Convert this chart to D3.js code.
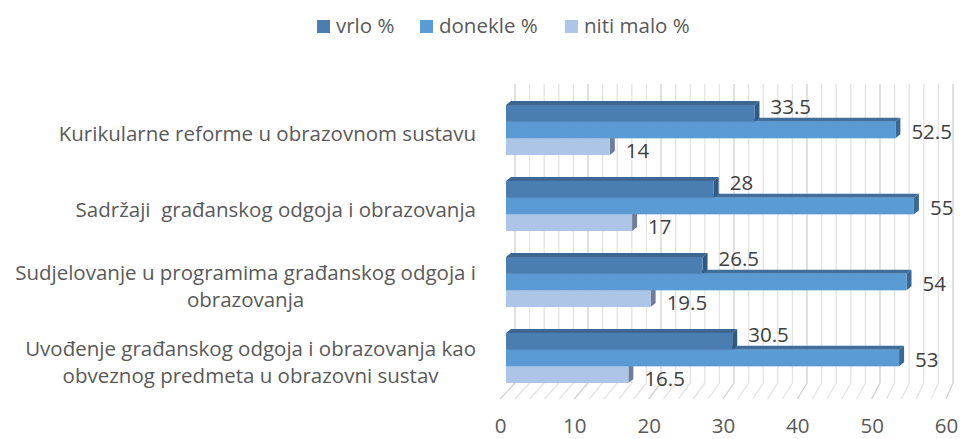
<!DOCTYPE html>
<html>
<head>
<meta charset="utf-8">
<script src="https://cdn.jsdelivr.net/npm/d3@7"></script>
<style>
  body { margin: 0; background: #fff; }
  text { font-family: "Open Sans", "Noto Sans", sans-serif; fill: #595959; }
</style>
</head>
<body>
<div id="chart"></div>
<script>
var svgWidth = 963;
var svgHeight = 439;

// Data.
var categories = [
    ["Kurikularne reforme u obrazovnom sustavu"],
    ["Sadržaji  građanskog odgoja i obrazovanja"],
    ["Sudjelovanje u programima građanskog odgoja i", "obrazovanja"],
    ["Uvođenje građanskog odgoja i obrazovanja kao", "obveznog predmeta u obrazovni sustav"]
];
var seriesNames = ["vrlo %", "donekle %", "niti malo %"];
var vrlo = [33.5, 28, 26.5, 30.5];
var donekle = [52.5, 55, 54, 53];
var nitiMalo = [14, 17, 19.5, 16.5];
var tickValues = [0, 10, 20, 30, 40, 50, 60];

var seriesValues = [vrlo, donekle, nitiMalo];
var frontColors = ["#4A7EB1", "#5B9BD5", "#ADC5E6"];
var topColors = ["#3B6791", "#3F6E9B", "#8097B5"];
var sideColors = ["#2F5A82", "#3A6894", "#6D7F98"];
var labelDy = [-6, 2, 4];
var fontSize = "20.5px";

var svg = d3.select("#chart")
    .append("svg")
    .attr("width", svgWidth)
    .attr("height", svgHeight);

// 3D depth of the chart walls and of the bars.
var wallTop = 84, backBottom = 383, frontBottom = 399;
var depthX = 5, depthY = -4;

var xFront = d3.scaleLinear().domain([0, 60]).range([500, 946]);
var xBack = d3.scaleLinear().domain([0, 60]).range([515, 953]);
var xBar = d3.scaleLinear().domain([0, 60]).range([506, 951]);

var catIndex = d3.range(categories.length);
var y0 = d3.scaleBand()
    .domain(catIndex)
    .range([92, 396])
    .paddingInner(0.34)
    .paddingOuter(0.17);
var y1 = d3.scaleBand()
    .domain(d3.range(seriesNames.length))
    .range([0, y0.bandwidth()]);

// Gridlines on back wall and floor, every 2 units.
var grid = svg.append("g");
var gridValues = d3.range(0, 61, 2);
grid.selectAll("line.back")
    .data(gridValues)
    .enter()
    .append("line")
    .attr("x1", d => xBack(d))
    .attr("x2", d => xBack(d))
    .attr("y1", wallTop)
    .attr("y2", backBottom)
    .attr("stroke", d => d % 10 === 0 ? "#d0d0d0" : "#e3e3e3")
    .attr("stroke-width", 1.3);
grid.selectAll("line.floor")
    .data(gridValues)
    .enter()
    .append("line")
    .attr("x1", d => xBack(d))
    .attr("x2", d => xFront(d))
    .attr("y1", backBottom)
    .attr("y2", frontBottom)
    .attr("stroke", d => d % 10 === 0 ? "#d0d0d0" : "#e3e3e3")
    .attr("stroke-width", 1.3);

// Bars, drawn bottom series first so upper bars cover their top faces.
var bars = svg.append("g");
catIndex.forEach(function(ci) {
    for (var si = seriesNames.length - 1; si >= 0; si--) {
        var v = seriesValues[si][ci];
        var x0 = xBar(0), x1 = xBar(v);
        var y = y0(ci) + y1(si);
        var h = y1.bandwidth();
        var g = bars.append("g");
        // top face
        g.append("path")
            .attr("d", `M${x0},${y} L${x0 + depthX},${y + depthY} L${x1 + depthX},${y + depthY} L${x1},${y} Z`)
            .attr("fill", topColors[si]);
        // side face
        g.append("path")
            .attr("d", `M${x1},${y} L${x1 + depthX},${y + depthY} L${x1 + depthX},${y + h + depthY} L${x1},${y + h} Z`)
            .attr("fill", sideColors[si]);
        // front face
        g.append("rect")
            .attr("x", x0)
            .attr("y", y)
            .attr("width", x1 - x0)
            .attr("height", h)
            .attr("fill", frontColors[si]);
    }
});

// Data labels.
catIndex.forEach(function(ci) {
    seriesNames.forEach(function(s, si) {
        var v = seriesValues[si][ci];
        svg.append("text")
            .attr("x", xBar(v) + 16)
            .attr("y", y0(ci) + y1(si) + y1.bandwidth() / 2 + labelDy[si])
            .attr("dy", "0.35em")
            .style("font-size", fontSize)
            .style("fill", "#404040")
            .text(v);
    });
});

// Category labels, lines centred in a right-aligned block.
var catGroup = svg.append("g");
categories.forEach(function(lines, ci) {
    var g = catGroup.append("g");
    var texts = lines.map(function(line) {
        return g.append("text")
            .style("font-size", fontSize)
            .style("white-space", "pre")
            .attr("text-anchor", "middle")
            .text(line);
    });
    var maxW = d3.max(texts, t => t.node().getComputedTextLength());
    var cx = 476 - maxW / 2;
    var cy = y0(ci) + y0.bandwidth() / 2 + 4;
    var lineH = 27;
    texts.forEach(function(t, li) {
        t.attr("x", cx)
            .attr("y", cy + (li - (lines.length - 1) / 2) * lineH)
            .attr("dy", "0.35em");
    });
});

// X axis.
var bottomAxis = d3.axisBottom(xFront)
    .tickValues(tickValues)
    .tickSize(0)
    .tickPadding(0);
var xAxis = svg.append("g")
    .attr("transform", "translate(0, 418)")
    .call(bottomAxis);
xAxis.select(".domain").remove();
xAxis.selectAll("text")
    .attr("dy", "0.71em")
    .style("font-size", fontSize)
    .style("font-family", "'Open Sans', 'Noto Sans', sans-serif")
    .style("fill", "#595959");

// Legend.
var legendX = [317, 420, 565];
var legend = svg.append("g");
seriesNames.forEach(function(name, si) {
    legend.append("rect")
        .attr("x", legendX[si])
        .attr("y", 20)
        .attr("width", 13)
        .attr("height", 13)
        .attr("fill", frontColors[si]);
    legend.append("text")
        .attr("x", legendX[si] + 19)
        .attr("y", 33)
        .style("font-size", fontSize)
        .text(name);
});
</script>
</body>
</html>
